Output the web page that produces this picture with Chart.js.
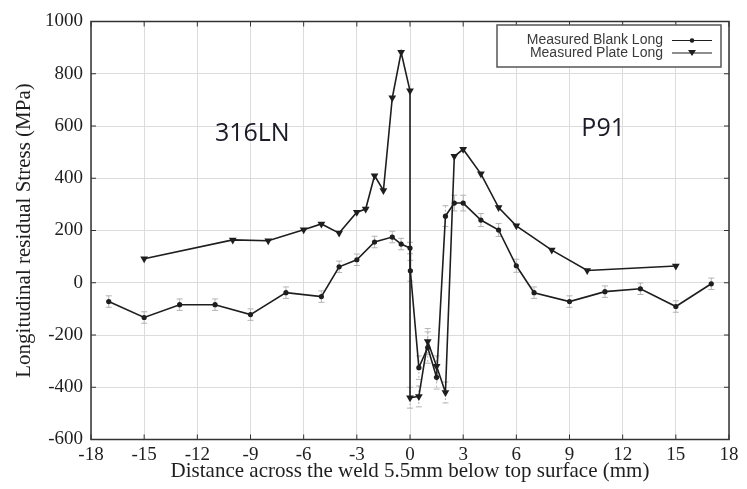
<!DOCTYPE html>
<html>
<head>
<meta charset="utf-8">
<script src="https://cdn.jsdelivr.net/npm/chart.js@4.4.1/dist/chart.umd.min.js"></script>
<style>
  html, body { margin: 0; padding: 0; background: #fff; }
  canvas { display: block; }
</style>
</head>
<body>
<canvas id="stressChart" width="747" height="489"></canvas>
<script>
// Values
const blankX   = [-17, -15, -13, -11, -9, -7, -5, -4, -3, -2, -1, -0.5, 0, 0.02, 0.5, 1, 1.5, 2, 2.5, 3, 4, 5, 6, 7, 9, 11, 13, 15, 17];
const blankY   = [-72, -133, -84, -84, -122, -38, -53, 61, 88, 156, 175, 148, 133, 46, -325, -248, -362, 255, 305, 305, 240, 202, 65, -38, -72, -34, -23, -91, -4];
const blankErr = [22, 22, 22, 22, 22, 22, 22, 22, 22, 22, 22, 22, 22, 40, 45, 60, 45, 40, 30, 30, 25, 25, 25, 22, 22, 22, 22, 22, 22];

const plateX   = [-15, -10, -8, -6, -5, -4, -3, -2.5, -2, -1.5, -1, -0.5, 0, 0, 0.5, 1, 1.5, 2, 2.5, 3, 4, 5, 6, 8, 10, 15];
const plateY   = [92, 164, 161, 203, 225, 190, 270, 282, 410, 353, 708, 882, 735, -440, -435, -225, -320, -420, 484, 511, 417, 288, 218, 125, 47, 64];
const plateErr = [0, 0, 0, 0, 0, 0, 0, 0, 0, 0, 0, 0, 0, 40, 40, 50, 40, 40, 0, 0, 0, 0, 0, 0, 0, 0];

const seriesNames = ['Measured Blank Long', 'Measured Plate Long'];
const xTicks = { min: -18, max: 18, step: 3 };
const yTicks = { min: -600, max: 1000, step: 200 };
const regionLabels = [
  { text: '316LN', x: -8.9, y: 570 },
  { text: 'P91', x: 10.9, y: 590 }
];

const toPoints = (xs, ys) => xs.map((x, i) => ({ x: x, y: ys[i] }));

const serif = "'Liberation Serif', 'DejaVu Serif', serif";
const ink = '#1e1e1e';

// error bars behind the lines
const errorBars = {
  id: 'errorBars',
  beforeDatasetsDraw(chart) {
    const { ctx, scales: { x, y } } = chart;
    const errs = [blankErr, plateErr];
    ctx.save();
    ctx.strokeStyle = '#b4b4b4';
    ctx.lineWidth = 1;
    chart.data.datasets.forEach((ds, d) => {
      ds.data.forEach((p, i) => {
        const e = errs[d][i];
        if (!e) return;
        const px = x.getPixelForValue(p.x);
        const top = y.getPixelForValue(p.y + e);
        const bot = y.getPixelForValue(p.y - e);
        ctx.setLineDash(e > 30 ? [2, 2] : []);
        ctx.beginPath();
        ctx.moveTo(px, top); ctx.lineTo(px, bot);
        ctx.stroke();
        ctx.setLineDash([]);
        ctx.beginPath();
        ctx.moveTo(px - 3, top); ctx.lineTo(px + 3, top);
        ctx.moveTo(px - 3, bot); ctx.lineTo(px + 3, bot);
        ctx.stroke();
      });
    });
    ctx.restore();
  }
};

// gnuplot style frame, inward ticks, legend box and region labels
const frameAndLegend = {
  id: 'frameAndLegend',
  afterDraw(chart) {
    const { ctx, chartArea: a, scales: { x, y } } = chart;
    ctx.save();
    ctx.strokeStyle = '#333';
    ctx.lineWidth = 1.5;
    ctx.strokeRect(a.left, a.top, a.right - a.left, a.bottom - a.top);

    ctx.lineWidth = 1;
    ctx.beginPath();
    x.ticks.forEach(t => {
      const px = x.getPixelForValue(t.value);
      ctx.moveTo(px, a.bottom); ctx.lineTo(px, a.bottom - 5);
      ctx.moveTo(px, a.top); ctx.lineTo(px, a.top + 5);
    });
    y.ticks.forEach(t => {
      const py = y.getPixelForValue(t.value);
      ctx.moveTo(a.left, py); ctx.lineTo(a.left + 5, py);
      ctx.moveTo(a.right, py); ctx.lineTo(a.right - 5, py);
    });
    ctx.stroke();

    // legend
    const bx = 497, by = 25, bw = 224, bh = 42;
    ctx.fillStyle = '#fff';
    ctx.fillRect(bx, by, bw, bh);
    ctx.strokeStyle = '#555';
    ctx.lineWidth = 1.5;
    ctx.strokeRect(bx, by, bw, bh);
    ctx.font = "14px 'Liberation Sans', Arial, sans-serif";
    ctx.textAlign = 'right';
    ctx.textBaseline = 'middle';
    chart.data.datasets.forEach((ds, i) => {
      const ry = 40.5 + i * 12.5;
      ctx.fillStyle = '#3a3a3a';
      ctx.fillText(ds.label, 663, ry);
      ctx.strokeStyle = ink;
      ctx.lineWidth = 1.2;
      ctx.beginPath();
      ctx.moveTo(672, ry); ctx.lineTo(712, ry);
      ctx.stroke();
      ctx.fillStyle = ink;
      ctx.beginPath();
      if (i === 0) {
        ctx.arc(692, ry, 2.3, 0, Math.PI * 2);
      } else {
        ctx.moveTo(688, ry - 3); ctx.lineTo(696, ry - 3); ctx.lineTo(692, ry + 3);
        ctx.closePath();
      }
      ctx.fill();
    });

    // region labels
    ctx.font = "25px 'Open Sans', 'Noto Sans', sans-serif";
    ctx.textAlign = 'center';
    ctx.fillStyle = '#1c1c28';
    regionLabels.forEach(r => {
      ctx.fillText(r.text, x.getPixelForValue(r.x), y.getPixelForValue(r.y));
    });
    ctx.restore();
  }
};

new Chart(document.getElementById('stressChart'), {
  type: 'scatter',
  data: {
    datasets: [
      {
        label: seriesNames[0],
        data: toPoints(blankX, blankY),
        showLine: true,
        borderColor: ink,
        borderWidth: 1.6,
        pointStyle: 'circle',
        pointRadius: 2.6,
        pointBackgroundColor: ink,
        pointBorderColor: ink,
        pointBorderWidth: 0,
        tension: 0
      },
      {
        label: seriesNames[1],
        data: toPoints(plateX, plateY),
        showLine: true,
        borderColor: ink,
        borderWidth: 1.6,
        pointStyle: 'triangle',
        pointRotation: 180,
        pointRadius: 4.5,
        pointBackgroundColor: ink,
        pointBorderColor: ink,
        pointBorderWidth: 0,
        tension: 0
      }
    ]
  },
  options: {
    responsive: false,
    animation: false,
    devicePixelRatio: 1,
    layout: { padding: { top: 21.5, right: 18, left: 0, bottom: 0 } },
    plugins: {
      legend: { display: false },
      tooltip: { enabled: false }
    },
    scales: {
      x: {
        type: 'linear',
        min: xTicks.min,
        max: xTicks.max,
        afterFit: s => { s.height = 49.5; },
        ticks: { stepSize: xTicks.step, padding: 4, color: ink, font: { family: serif, size: 19 },
                 callback: v => String(v) },
        grid: { color: '#dcdcdc', lineWidth: 1, drawTicks: false },
        border: { display: false },
        title: {
          display: true,
          text: 'Distance across the weld 5.5mm below top surface (mm)',
          color: ink,
          font: { family: serif, size: 21 },
          padding: { top: 5, bottom: 5 }
        }
      },
      y: {
        min: yTicks.min,
        max: yTicks.max,
        afterFit: s => { s.width = 91; },
        ticks: { stepSize: yTicks.step, padding: 8, color: ink, font: { family: serif, size: 19 },
                 callback: v => String(v) },
        grid: { color: '#dcdcdc', lineWidth: 1, drawTicks: false },
        border: { display: false },
        title: {
          display: true,
          text: 'Longitudinal residual Stress (MPa)',
          color: ink,
          font: { family: serif, size: 21 },
          padding: { top: 12, bottom: 12 }
        }
      }
    }
  },
  plugins: [errorBars, frameAndLegend]
});
</script>
</body>
</html>
